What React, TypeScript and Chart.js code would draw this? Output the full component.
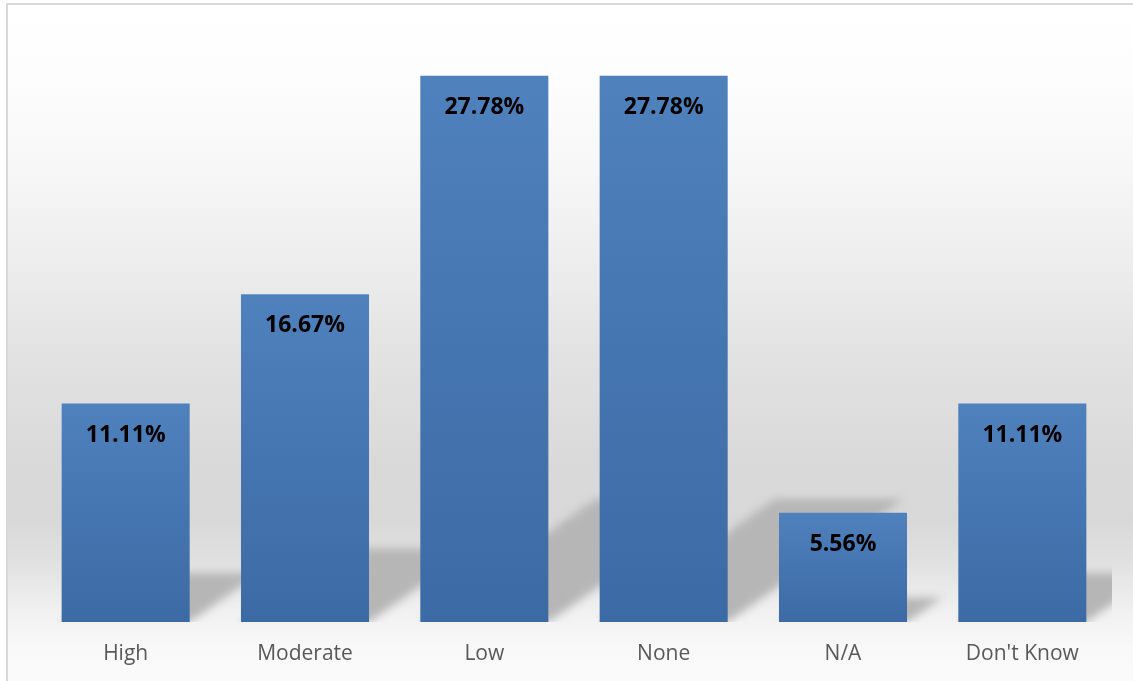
import React, { useEffect, useRef } from "react";
import { Chart, registerables } from "chart.js";

Chart.register(...registerables);

const categories = ["High", "Moderate", "Low", "None", "N/A", "Don't Know"];
const percentages = [11.11, 16.67, 27.78, 27.78, 5.56, 11.11];
const valueLabels = ["11.11%", "16.67%", "27.78%", "27.78%", "5.56%", "11.11%"];
const yAxisMin = 0;
const yAxisMax = 30;

const backgroundPlugin = {
  id: "bgFrame",
  beforeDraw(chart: any) {
    const { ctx, width, height } = chart;
    ctx.save();
    ctx.fillStyle = "#ffffff";
    ctx.fillRect(0, 0, width, height);
    const g = ctx.createLinearGradient(0, 5, 0, height);
    g.addColorStop(0, "#ffffff");
    g.addColorStop(0.1, "#fdfdfd");
    g.addColorStop(0.22, "#f8f8f8");
    g.addColorStop(0.37, "#eeeeee");
    g.addColorStop(0.51, "#e3e3e3");
    g.addColorStop(0.66, "#dadada");
    g.addColorStop(0.76, "#d8d8d8");
    g.addColorStop(0.82, "#e0e0e0");
    g.addColorStop(0.9, "#f1f1f1");
    g.addColorStop(0.95, "#f8f8f8");
    g.addColorStop(1, "#fbfbfb");
    ctx.fillStyle = g;
    ctx.fillRect(7, 4, width, height);
    ctx.strokeStyle = "#d9d9d9";
    ctx.lineWidth = 2;
    ctx.beginPath();
    ctx.moveTo(7, height + 5);
    ctx.lineTo(7, 4);
    ctx.lineTo(width + 5, 4);
    ctx.stroke();
    ctx.restore();
  },
};

const shadowPlugin = {
  id: "barShadows",
  beforeDatasetsDraw(chart: any) {
    const { ctx, chartArea } = chart;
    const meta = chart.getDatasetMeta(0);
    ctx.save();
    ctx.beginPath();
    ctx.rect(chartArea.left, chartArea.top, chartArea.right - chartArea.left, chartArea.bottom - chartArea.top);
    ctx.clip();
    ctx.filter = "blur(4px)";
    ctx.fillStyle = "#b6b6b6";
    meta.data.forEach((el: any) => {
      const { x, y, base, width } = el.getProps(["x", "y", "base", "width"], true);
      const h = base - y;
      const hs = h * 0.225;
      const dx = hs / 0.7;
      ctx.beginPath();
      ctx.moveTo(x - width / 2, base);
      ctx.lineTo(x + width / 2, base);
      ctx.lineTo(x + width / 2 + dx, base - hs);
      ctx.lineTo(x - width / 2 + dx, base - hs);
      ctx.closePath();
      ctx.fill();
    });
    ctx.restore();
  },
};

const labelPlugin = {
  id: "valueLabels",
  afterDatasetsDraw(chart: any) {
    const { ctx } = chart;
    const meta = chart.getDatasetMeta(0);
    ctx.save();
    ctx.font = "bold 23px 'Open Sans'";
    ctx.fillStyle = "#000000";
    ctx.textAlign = "center";
    ctx.textBaseline = "alphabetic";
    meta.data.forEach((el: any, i: number) => {
      const { x, y } = el.getProps(["x", "y"], true);
      ctx.fillText(valueLabels[i], x, y + 38);
    });
    ctx.restore();
  },
};

export default function App() {
  const ref = useRef<HTMLCanvasElement>(null);
  useEffect(() => {
    document.body.style.margin = "0";
    const canvas = ref.current;
    if (!canvas) return;
    const chart = new Chart(canvas, {
      type: "bar",
      data: {
        labels: categories,
        datasets: [
          {
            data: percentages,
            backgroundColor: (c: any) => {
              const ch = c.chart;
              const ys = ch.scales && ch.scales.y;
              if (!ys || c.raw === undefined) return "#4a78b3";
              const top = ys.getPixelForValue(c.raw);
              const bot = ys.getPixelForValue(0);
              if (!isFinite(top) || !isFinite(bot) || top === bot) return "#4a78b3";
              const g = ch.ctx.createLinearGradient(0, top, 0, bot);
              g.addColorStop(0, "#4f81bd");
              g.addColorStop(1, "#3c6aa4");
              return g;
            },
            borderWidth: 0,
            barPercentage: 0.714,
            categoryPercentage: 1,
          },
        ],
      },
      options: {
        animation: false,
        responsive: true,
        maintainAspectRatio: false,
        layout: { padding: { left: 36, right: 21, top: 32, bottom: 0 } },
        plugins: { legend: { display: false }, tooltip: { enabled: false } },
        scales: {
          x: {
            grid: { display: false, drawTicks: false },
            border: { display: false },
            ticks: {
              color: "#595959",
              font: { family: "'Open Sans'", size: 21 },
              padding: 19,
              maxRotation: 0,
            },
            afterFit: (scale: any) => {
              scale.height = 59;
            },
          },
          y: {
            display: false,
            min: yAxisMin,
            max: yAxisMax,
          },
        },
      },
      plugins: [backgroundPlugin, shadowPlugin, labelPlugin],
    });
    return () => chart.destroy();
  }, []);
  return (
    <div style={{ position: "fixed", left: 0, top: 0, width: 1133, height: 681 }}>
      <canvas ref={ref} />
    </div>
  );
}
